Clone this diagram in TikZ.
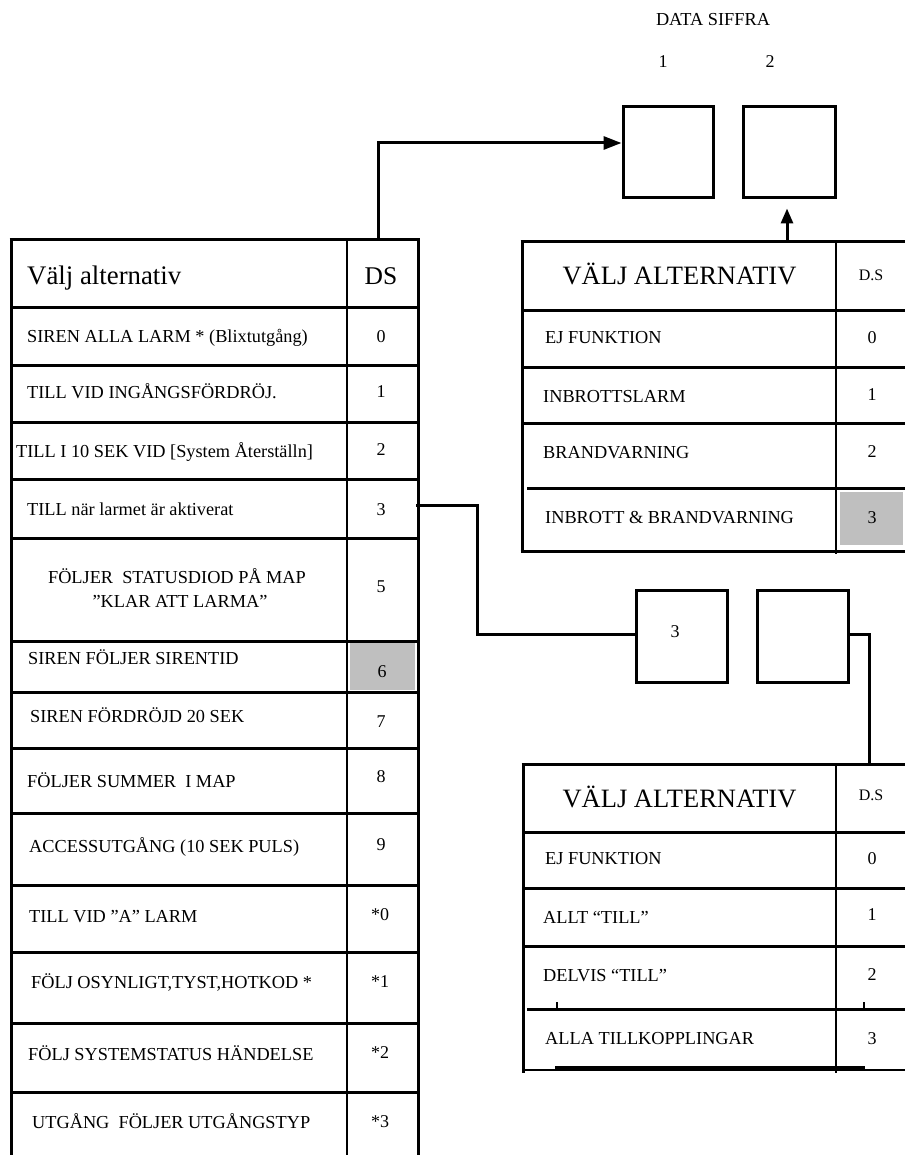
\documentclass[tikz,border=0pt]{standalone}
\usepackage{fontspec}
\setmainfont{Liberation Serif}
\usetikzlibrary{arrows.meta}
\begin{document}
\begin{tikzpicture}[x=1pt,y=-1pt,
  gridline/.style={line width=3pt},
  divline/.style={line width=2.4pt},
  txt/.style={anchor=base west, inner sep=0pt, font=\fontsize{18.3}{22}\selectfont},
  ctxt/.style={anchor=base, inner sep=0pt, font=\fontsize{18.3}{22}\selectfont},
  num/.style={anchor=base, inner sep=0pt, font=\fontsize{18}{22}\selectfont},
  bighdr/.style={anchor=base west, inner sep=0pt, font=\fontsize{26.8}{30}\selectfont},
  dshdr/.style={anchor=base, inner sep=0pt, font=\fontsize{16}{19}\selectfont},
  databox/.style={draw, line width=3pt, inner sep=0pt, minimum width=90pt, minimum height=91pt, font=\fontsize{18}{22}\selectfont},
  arrA/.style={line width=3pt, -{Triangle[length=18pt,width=13pt]}},
  arrB/.style={line width=3pt, -{Triangle[length=15pt,width=12pt]}},
  conn/.style={line width=3pt}
]
\useasboundingbox (0,0) rectangle (905,1155);

% ---------- top labels ----------
\node[ctxt] (datasiffra) at (713,26) {DATA SIFFRA};
\node[num] (d1) at (663,68) {1};
\node[num] (d2) at (770,68) {2};

% ---------- data boxes ----------
\node[databox] (box1) at (668,152.5) {};
\node[databox, minimum width=92pt] (box2) at (789,152.5) {};
\node[databox, minimum width=91pt, minimum height=92pt] (box3) at (681.5,636) {};
\node[databox, minimum width=91pt, minimum height=92pt] (box4) at (802.5,636) {};
\node[num] (box3txt) at (675,637) {3};

% ---------- left table ----------
\fill[black!25] (350,643) rectangle (415,690);
\draw[gridline] (11,240) -- (11,1160);
\draw[divline] (347,240) -- (347,1160);
\draw[gridline] (418,240) -- (418,1160);
\draw[gridline] (9.5,240) -- (419.5,240);
\foreach \yy in {307,365,422,479,538,641,692,748,813,885,952,1023,1092}
  \draw[gridline] (11,\yy) -- (419.5,\yy);

\node[bighdr] (lhdr) at (27,284) {Välj alternativ};
\node[anchor=base, inner sep=0pt, font=\fontsize{25.5}{30}\selectfont] (lds) at (381,285) {DS};

\node[txt] (l0) at (27,342) {SIREN ALLA LARM * (Blixtutgång)};
\node[num] (n0) at (381,342) {0};
\node[txt] (l1) at (27,398) {TILL VID INGÅNGSFÖRDRÖJ.};
\node[num] (n1) at (381,397) {1};
\node[txt] (l2) at (16,457) {TILL I 10 SEK VID [System Återställn]};
\node[num] (n2) at (381,455) {2};
\node[txt] (l3) at (27,515) {TILL när larmet är aktiverat};
\node[num] (n3) at (381,515) {3};
\node[ctxt] (l5a) at (177,583) {FÖLJER\ \ STATUSDIOD PÅ MAP};
\node[ctxt] (l5b) at (180,607) {”KLAR ATT LARMA”};
\node[num] (n5) at (381,592) {5};
\node[txt] (l6) at (28,664) {SIREN FÖLJER SIRENTID};
\node[num] (n6) at (382,677) {6};
\node[txt] (l7) at (30,722) {SIREN FÖRDRÖJD 20 SEK};
\node[num] (n7) at (381,727) {7};
\node[txt] (l8) at (27,787) {FÖLJER SUMMER\ \ I MAP};
\node[num] (n8) at (381,782) {8};
\node[txt] (l9) at (29,852) {ACCESSUTGÅNG (10 SEK PULS)};
\node[num] (n9) at (381,850) {9};
\node[txt] (la0) at (29,922) {TILL VID ”A” LARM};
\node[num] (na0) at (380,920) {*0};
\node[txt] (la1) at (31,988) {FÖLJ OSYNLIGT,TYST,HOTKOD *};
\node[num] (na1) at (380,987) {*1};
\node[txt] (la2) at (28,1060) {FÖLJ SYSTEMSTATUS HÄNDELSE};
\node[num] (na2) at (380,1058) {*2};
\node[txt] (la3) at (32,1128) {UTGÅNG\ \ FÖLJER UTGÅNGSTYP};
\node[num] (na3) at (380,1127) {*3};

% ---------- upper right table ----------
\fill[black!25] (840,492) rectangle (903,545);
\draw[gridline] (522,242) -- (522,551);
\draw[divline] (836,242) -- (836,554);
\draw[gridline] (520.5,242) -- (905,242);
\foreach \yy in {310,367,423}
  \draw[gridline] (522,\yy) -- (905,\yy);
\draw[gridline] (527,488) -- (905,488);
\draw[gridline] (520.5,551) -- (905,551);

\node[anchor=base, inner sep=0pt, font=\fontsize{26.5}{30}\selectfont] (rhdr) at (679.5,285) {VÄLJ ALTERNATIV};
\node[dshdr] (rds) at (871,280) {D.S};
\node[txt] (r0) at (545,343) {EJ FUNKTION};
\node[num] (rn0) at (872,343) {0};
\node[txt] (r1) at (543,402) {INBROTTSLARM};
\node[num] (rn1) at (872,400) {1};
\node[txt] (r2) at (543,458) {BRANDVARNING};
\node[num] (rn2) at (872,457) {2};
\node[txt] (r3) at (545,523) {INBROTT \& BRANDVARNING};
\node[num] (rn3) at (872,523) {3};

% ---------- lower right table ----------
\draw[gridline] (523,764) -- (523,1073);
\draw[divline] (836,764) -- (836,1073);
\draw[gridline] (521.5,764) -- (905,764);
\foreach \yy in {832,888,946}
  \draw[gridline] (523,\yy) -- (905,\yy);
\draw[gridline] (527,1009) -- (905,1009);
\draw[line width=2pt] (557,1002) -- (557,1009);
\draw[line width=2pt] (864,1002) -- (864,1009);
\draw[line width=2pt] (523,1070) -- (905,1070);
\draw[line width=4.5pt] (555,1068) -- (865,1068);

\node[anchor=base, inner sep=0pt, font=\fontsize{26.5}{30}\selectfont] (bhdr) at (679.5,807) {VÄLJ ALTERNATIV};
\node[dshdr] (bds) at (871,800) {D.S};
\node[txt] (b0) at (545,864) {EJ FUNKTION};
\node[num] (bn0) at (872,864) {0};
\node[txt] (b1) at (543,923) {ALLT “TILL”};
\node[num] (bn1) at (872,920) {1};
\node[txt] (b2) at (543,981) {DELVIS “TILL”};
\node[num] (bn2) at (872,980) {2};
\node[txt] (b3) at (545,1044) {ALLA TILLKOPPLINGAR};
\node[num] (bn3) at (872,1044) {3};

% ---------- connection points on tables ----------
\coordinate (ltabtop) at (378,240);
\coordinate (rtabtop) at (787,242);
\coordinate (lrow3) at (416,505);
\coordinate (btabtop) at (869,764);

% ---------- connectors ----------
\draw[arrA] (ltabtop) |- ([yshift=9.5pt]box1.west);
\draw[arrB] (rtabtop) -- ([xshift=-2pt,yshift=-9pt]box2.south);
\draw[conn] (lrow3) -- ++(61,0) |- ([yshift=2pt]box3.west);
\draw[conn] ([yshift=2pt]box4.east) -| (btabtop);
\end{tikzpicture}
\end{document}
